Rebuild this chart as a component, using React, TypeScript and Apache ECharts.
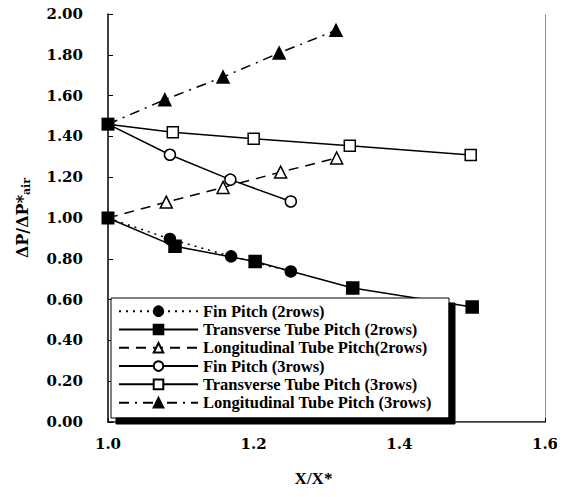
import React, { useEffect, useRef } from "react";
import * as echarts from "echarts";

const seriesNames = [
  "Fin Pitch (2rows)",
  "Transverse Tube Pitch (2rows)",
  "Longitudinal Tube Pitch(2rows)",
  "Fin Pitch (3rows)",
  "Transverse Tube Pitch (3rows)",
  "Longitudinal Tube Pitch (3rows)",
];

const xFin2 = [1.0, 1.085, 1.169, 1.251];
const yFin2 = [1.0, 0.897, 0.812, 0.738];
const xTrans2 = [1.0, 1.092, 1.202, 1.336, 1.5];
const yTrans2 = [1.0, 0.861, 0.787, 0.657, 0.564];
const xLong2 = [1.0, 1.08, 1.158, 1.237, 1.314];
const yLong2 = [1.0, 1.078, 1.15, 1.225, 1.294];
const xFin3 = [1.0, 1.085, 1.168, 1.251];
const yFin3 = [1.46, 1.31, 1.188, 1.081];
const xTrans3 = [1.0, 1.089, 1.2, 1.332, 1.498];
const yTrans3 = [1.46, 1.42, 1.389, 1.354, 1.309];
const xLong3 = [1.0, 1.078, 1.158, 1.235, 1.313];
const yLong3 = [1.46, 1.58, 1.691, 1.809, 1.92];
const baseX = [1.0, 1.0];
const baseY = [1.0, 1.46];

const xTicks = [1.0, 1.2, 1.4, 1.6];
const yTicks = [0, 0.2, 0.4, 0.6, 0.8, 1.0, 1.2, 1.4, 1.6, 1.8, 2.0];

// first point of each line is the shared reference point, drawn by the baseline series
const zip = (xs: number[], ys: number[]) =>
  xs.map((x, i) => (i === 0 ? { value: [x, ys[i]], symbol: "none" } : [x, ys[i]]));

const tickFont = "DejaVu Serif";
const legendFont = "Liberation Serif";

export default function App() {
  const ref = useRef<HTMLDivElement>(null);
  useEffect(() => {
    if (!ref.current) return;
    const chart = echarts.init(ref.current, null, { renderer: "svg" });
    const black = "#000";
    const mk = (
      name: string,
      data: any[],
      symbol: string,
      filled: boolean,
      lineType: any,
      size: number
    ) => ({
      name,
      type: "line",
      data,
      symbol,
      symbolSize: size,
      showAllSymbol: true,
      lineStyle: { color: black, width: 1.5, type: lineType },
      itemStyle: {
        color: filled ? black : "#fff",
        borderColor: black,
        borderWidth: 1.5,
        opacity: 1,
      },
      z: 2,
    });
    chart.setOption({
      animation: false,
      backgroundColor: "#fff",
      grid: { left: 108, right: 20, top: 14, bottom: 75 },
      xAxis: [
        {
          type: "value",
          min: 1.0,
          max: 1.6,
          interval: 0.2,
          axisLine: { show: true, lineStyle: { color: black, width: 1.5 } },
          axisTick: { show: true, inside: true, length: 4, lineStyle: { color: black } },
          splitLine: { show: false },
          axisLabel: {
            margin: 14,
            fontFamily: tickFont,
            fontWeight: "bold",
            fontSize: 15,
            color: black,
            customValues: xTicks,
            formatter: (v: number) => v.toFixed(1),
          },
          name: "X/X*",
          nameLocation: "middle",
          nameGap: 48,
          nameTextStyle: {
            fontFamily: legendFont,
            fontWeight: "bold",
            fontSize: 17,
            color: black,
            padding: [0, 26, 0, 0],
          },
        },
        {
          type: "value",
          position: "top",
          min: 1.0,
          max: 1.6,
          interval: 0.2,
          axisLine: { show: true, lineStyle: { color: "#777", width: 1, type: "dotted" } },
          axisTick: { show: false },
          axisLabel: { show: false },
          splitLine: { show: false },
        },
      ],
      yAxis: [
        {
          type: "value",
          min: 0,
          max: 2,
          interval: 0.2,
          axisLine: { show: true, lineStyle: { color: black, width: 1.5 } },
          axisTick: { show: true, inside: true, length: 5, lineStyle: { color: black } },
          splitLine: { show: false },
          axisLabel: {
            margin: 25,
            fontFamily: tickFont,
            fontWeight: "bold",
            fontSize: 15,
            color: black,
            customValues: yTicks,
            formatter: (v: number) => v.toFixed(2),
          },
          name: "{a|ΔP/ΔP*}{s|air}",
          nameLocation: "middle",
          nameGap: 76,
          nameRotate: 90,
          nameTextStyle: {
            rich: {
              a: {
                fontFamily: tickFont,
                fontWeight: "bold",
                fontSize: 16,
                color: black,
              },
              s: {
                fontFamily: tickFont,
                fontWeight: "bold",
                fontSize: 11,
                color: black,
                padding: [8, 0, 0, 0],
              },
            },
          },
        },
        {
          type: "value",
          position: "right",
          min: 0,
          max: 2,
          interval: 0.2,
          axisLine: { show: true, lineStyle: { color: "#777", width: 1, type: "dotted" } },
          axisTick: { show: false },
          axisLabel: { show: false },
          splitLine: { show: false },
        },
      ],
      graphic: {
        elements: [
          {
            type: "polygon",
            id: "legendShadow",
            z: 100,
            shape: {
              points: [
                [449, 303],
                [455, 303],
                [455, 424],
                [116, 424],
                [116, 418],
                [449, 418],
              ],
            },
            style: { fill: "#000", stroke: "#000", lineWidth: 1 },
          },
          {
            type: "rect",
            id: "legendBox",
            z: 7,
            shape: { x: 111, y: 298, width: 338, height: 120 },
            style: { fill: "#fff", stroke: "#000", lineWidth: 1 },
          },
        ],
      },
      legend: {
        data: seriesNames,
        orient: "vertical",
        left: 118,
        top: 302,
        itemWidth: 79,
        itemHeight: 12,
        itemGap: 0,
        padding: 0,
        selectedMode: false,
        textStyle: {
          fontFamily: legendFont,
          fontWeight: "bold",
          fontSize: 16.5,
          lineHeight: 18.3,
          color: black,
        },
        z: 10,
      },
      series: [
        mk(seriesNames[0], zip(xFin2, yFin2), "circle", true, [2, 5], 11),
        mk(seriesNames[1], zip(xTrans2, yTrans2), "rect", true, "solid", 12),
        mk(seriesNames[2], zip(xLong2, yLong2), "triangle", false, [10, 7], 12),
        mk(seriesNames[3], zip(xFin3, yFin3), "circle", false, "solid", 11),
        mk(seriesNames[4], zip(xTrans3, yTrans3), "rect", false, "solid", 11),
        mk(seriesNames[5], zip(xLong3, yLong3), "triangle", true, [10, 6, 2, 6], 12),
        {
          name: "baseline",
          type: "scatter",
          data: baseX.map((x, i) => [x, baseY[i]]),
          symbol: "rect",
          symbolSize: 13,
          itemStyle: { color: black, opacity: 1 },
          z: 5,
        },
      ],
    });
    return () => chart.dispose();
  }, []);
  return <div ref={ref} style={{ width: 565, height: 497, margin: -8 }} />;
}
